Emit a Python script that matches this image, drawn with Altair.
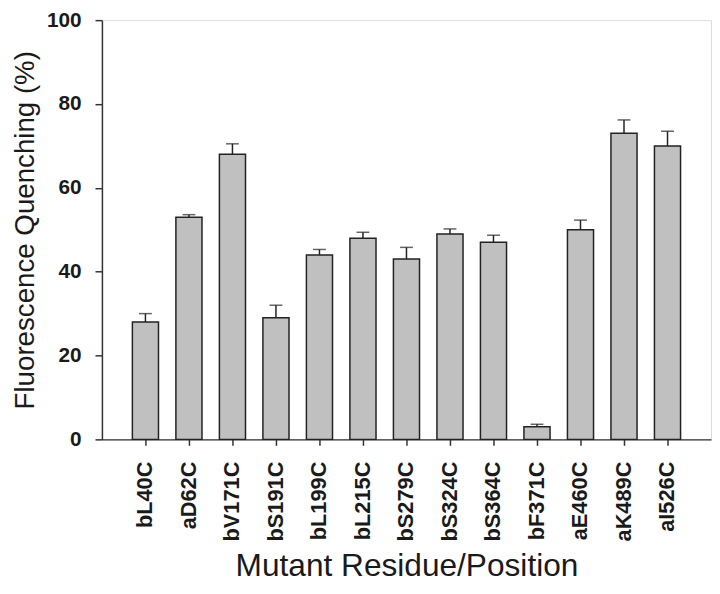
import altair as alt
import pandas as pd

mutants = ["bL40C", "aD62C", "bV171C", "bS191C", "bL199C", "bL215C", "bS279C",
           "bS324C", "bS364C", "bF371C", "aE460C", "aK489C", "aI526C"]
quenching = [28, 53, 68, 29, 44, 48, 43, 49, 47, 3, 50, 73, 70]
errors = [2.0, 0.6, 2.5, 3.0, 1.3, 1.4, 2.8, 1.2, 1.7, 0.6, 2.3, 3.2, 3.5]
y_ticks = [0, 20, 40, 60, 80, 100]

df = pd.DataFrame({"mutant": mutants, "q": quenching, "err": errors})
df["top"] = df["q"] + df["err"]

FONT = "Liberation Sans"
INK = "#222222"

x_enc = alt.X(
    "mutant:N",
    sort=mutants,
    scale=alt.Scale(paddingInner=0.4, paddingOuter=0.7),
    axis=alt.Axis(
        title="Mutant Residue/Position",
        titleFont=FONT, titleFontSize=32, titleFontWeight="normal",
        titleColor="#1a1a1a", titlePadding=10,
        labelAngle=-90, labelFont=FONT, labelFontSize=22, labelFontWeight="bold",
        labelColor="#1a1a1a", labelPadding=16,
        tickSize=6, tickColor="#333333", tickWidth=1.5,
        domainColor="#333333", domainWidth=1.5,
    ),
)

y_scale = alt.Scale(domain=[0, 100], nice=False)

bars = alt.Chart(df).mark_bar(
    fill="#c0c0c0", stroke=INK, strokeWidth=1.5
).encode(
    x=x_enc,
    y=alt.Y(
        "q:Q",
        scale=y_scale,
        axis=alt.Axis(
            title="Fluorescence Quenching (%)",
            titleFont=FONT, titleFontSize=28, titleFontWeight="normal",
            titleColor="#1a1a1a", titlePadding=7,
            values=y_ticks,
            labelFont=FONT, labelFontSize=21, labelFontWeight="bold",
            labelColor="#1a1a1a", labelPadding=14,
            tickSize=7, tickColor="#333333", tickWidth=1.5,
            domainColor="#333333", domainWidth=1.5, grid=False,
        ),
    ),
)

rules = alt.Chart(df).mark_rule(color=INK, strokeWidth=1.5).encode(
    x=alt.X("mutant:N", sort=mutants),
    y=alt.Y("q:Q", scale=y_scale),
    y2="top:Q",
)

caps = alt.Chart(df).mark_tick(color=INK, thickness=1.5, size=13).encode(
    x=alt.X("mutant:N", sort=mutants),
    y=alt.Y("top:Q", scale=y_scale),
)

chart = (bars + rules + caps).properties(
    width=616, height=424,
    autosize=alt.AutoSizeParams(type="none"),
    padding={"left": 95, "top": 9, "right": 1, "bottom": 145},
).configure_view(
    stroke="#333333", strokeWidth=1.5
).configure(background="white")

chart.save("out.html", embed_options={"renderer": "svg", "actions": False})
